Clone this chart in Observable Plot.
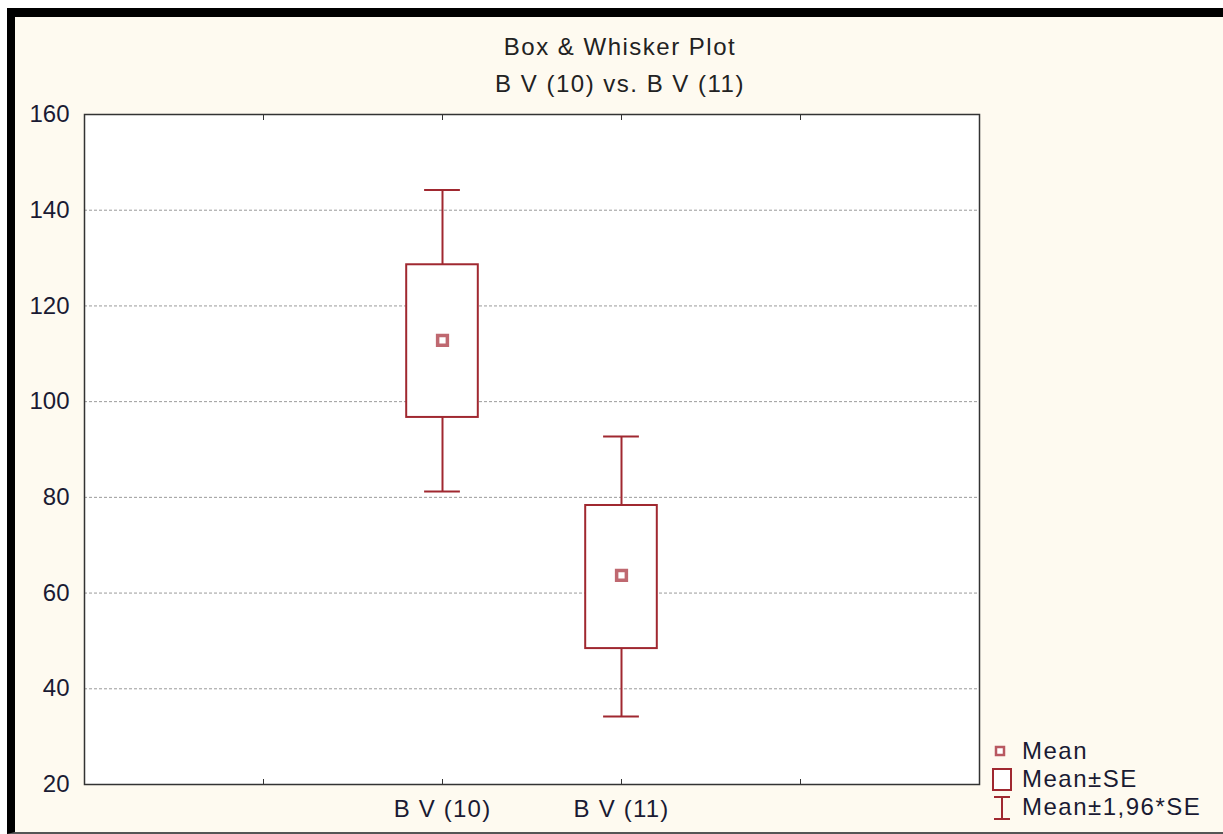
<!DOCTYPE html>
<html>
<head>
<meta charset="utf-8">
<script src="https://cdn.jsdelivr.net/npm/d3@7"></script>
<script src="https://cdn.jsdelivr.net/npm/@observablehq/plot@0.6"></script>
<style>
  html, body { margin: 0; padding: 0; background: #ffffff; width: 1223px; height: 834px; overflow: hidden; }
  #panel { position: absolute; left: 7px; top: 8px; width: 1216px; height: 826px; box-sizing: border-box;
           background: #fefaf0; border-top: 9px solid #000; border-left: 8px solid #000; border-bottom: 2px solid #555; }
  #chart { position: absolute; left: 0; top: 0; }
  .title { position: absolute; left: 320px; width: 600px; text-align: center;
           font-family: "Liberation Sans", Arial, sans-serif; font-size: 24px; color: #222; line-height: 28px; letter-spacing: 1.5px; }
  #legend { position: absolute; left: 988px; top: 737px; font-family: "Liberation Sans", Arial, sans-serif;
            font-size: 24px; color: #1a1a33; letter-spacing: 1.5px; }
  #legend svg { position: absolute; left: 0; top: 0; }
  .lg { position: absolute; left: 34px; white-space: nowrap; line-height: 28px; }
  #chart g[aria-label="x-axis tick label"] text { letter-spacing: 1.2px; }
</style>
</head>
<body>
<div id="panel"></div>
<div id="chart"></div>
<div class="title" style="top:33px">Box &amp; Whisker Plot</div>
<div class="title" style="top:70px">B V (10) vs. B V (11)</div>
<div id="legend">
  <svg width="40" height="90">
    <rect x="8" y="10" width="8" height="8" fill="white" stroke="#b85860" stroke-width="2.5"/>
    <rect x="5" y="32" width="18" height="21" fill="white" stroke="#a02830" stroke-width="2"/>
    <line x1="6" y1="60" x2="22" y2="60" stroke="#a02830" stroke-width="2"/>
    <line x1="14" y1="60" x2="14" y2="82" stroke="#a02830" stroke-width="2"/>
    <line x1="6" y1="82" x2="22" y2="82" stroke="#a02830" stroke-width="2"/>
  </svg>
  <div class="lg" style="top:0px">Mean</div>
  <div class="lg" style="top:28px">Mean±SE</div>
  <div class="lg" style="top:56px">Mean±1,96*SE</div>
</div>
<script>
const categories = ["B V (10)", "B V (11)"];
const means = [112.8, 63.7];
const seLow = [96.7, 48.4];
const seHigh = [128.6, 78.3];
const ciLow = [81.2, 34.2];
const ciHigh = [144.2, 92.7];
const yTicks = [20, 40, 60, 80, 100, 120, 140, 160];
const gridTicks = [40, 60, 80, 100, 120, 140];
const xSlots = [1, 2, 3, 4];   // slot positions of the category axis ticks
const firstCategorySlot = 2;

const data = categories.map((c, i) => ({
  cat: c, pos: firstCategorySlot + i, mean: means[i],
  seLow: seLow[i], seHigh: seHigh[i], ciLow: ciLow[i], ciHigh: ciHigh[i]
}));
const labelFor = s => { const d = data.find(e => e.pos === s); return d ? d.cat : ""; };

const boxColor = "#a02830";
const halfBox = 0.2, halfCap = 0.1;

const chart = Plot.plot({
  width: 1223, height: 834,
  marginLeft: 84, marginRight: 244, marginTop: 114, marginBottom: 50,
  style: { background: "transparent", fontFamily: "'Liberation Sans', Arial, sans-serif", fontSize: "24px", color: "#1a1a33" },
  x: { domain: [0, 5], label: null },
  y: { domain: [20, 160], label: null },
  marks: [
    Plot.frame({ fill: "white" }),
    Plot.gridY(gridTicks, { stroke: "#9a9a9a", strokeOpacity: 1, strokeDasharray: "3,2" }),
    Plot.ruleX(data, { x: "pos", y1: "seHigh", y2: "ciHigh", stroke: boxColor, strokeWidth: 2 }),
    Plot.ruleX(data, { x: "pos", y1: "ciLow", y2: "seLow", stroke: boxColor, strokeWidth: 2 }),
    Plot.ruleY(data, { y: "ciHigh", x1: d => d.pos - halfCap, x2: d => d.pos + halfCap, stroke: boxColor, strokeWidth: 2 }),
    Plot.ruleY(data, { y: "ciLow", x1: d => d.pos - halfCap, x2: d => d.pos + halfCap, stroke: boxColor, strokeWidth: 2 }),
    Plot.rect(data, { x1: d => d.pos - halfBox, x2: d => d.pos + halfBox, y1: "seLow", y2: "seHigh", fill: "white", stroke: boxColor, strokeWidth: 2 }),
    Plot.dot(data, { x: "pos", y: "mean", symbol: "square", r: 5.5, fill: "white", stroke: "#b85860", strokeWidth: 3.5, strokeOpacity: 0.9 }),
    Plot.frame({ stroke: "#333", strokeWidth: 1.5 }),
    Plot.axisY({ ticks: yTicks, tickSize: 0, tickPadding: 15, fontSize: 24, label: null }),
    Plot.axisX({ anchor: "bottom", ticks: xSlots, tickSize: -5, tickPadding: 20, tickFormat: labelFor, fontSize: 24, stroke: "#333", label: null }),
    Plot.axisX({ anchor: "top", ticks: xSlots, tickSize: -5, tickFormat: () => "", stroke: "#333", label: null })
  ]
});
document.getElementById("chart").appendChild(chart);
</script>
</body>
</html>
